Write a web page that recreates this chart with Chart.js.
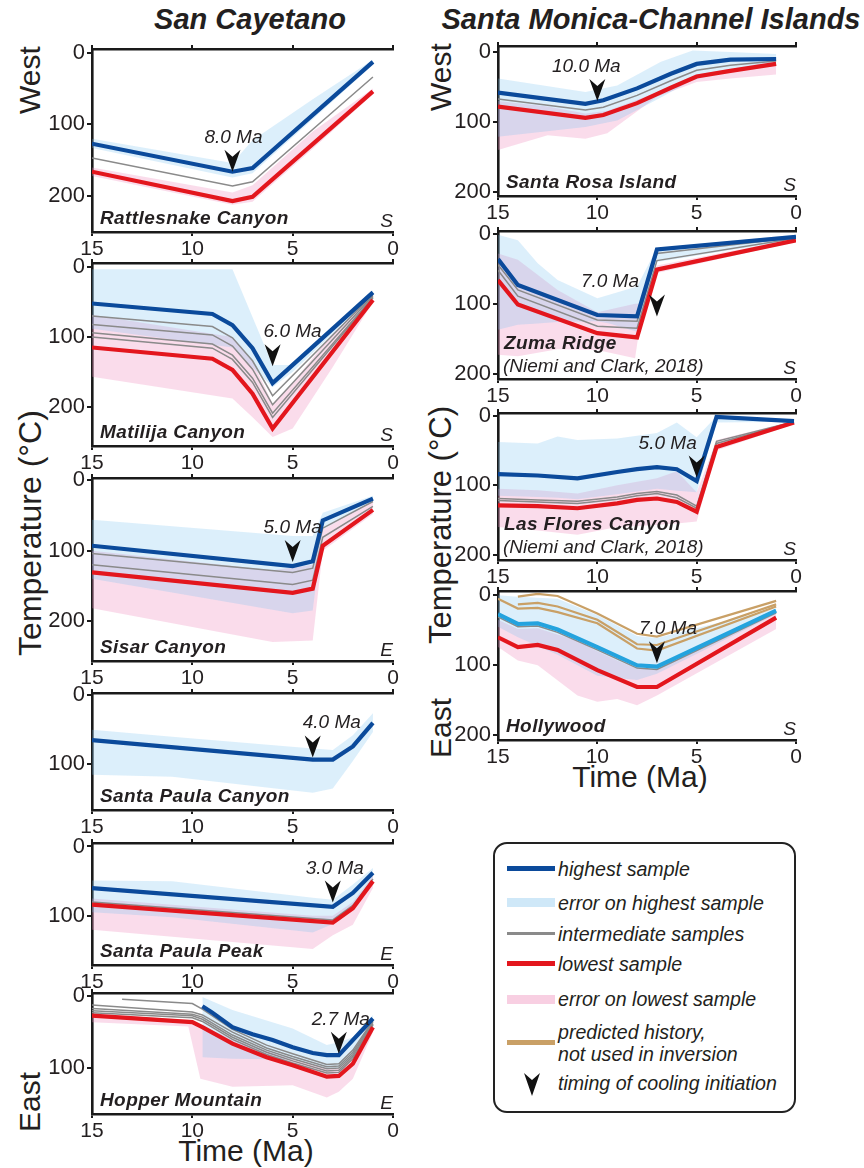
<!DOCTYPE html>
<html>
<head>
<meta charset="utf-8">
<script src="https://cdn.jsdelivr.net/npm/chart.js@4.4.1/dist/chart.umd.min.js"></script>
<style>
  html, body { margin: 0; padding: 0; background: #fff; }
  body { position: relative; width: 864px; height: 1168px; overflow: hidden;
         font-family: "Liberation Sans", Arial, sans-serif; color: #231f20; }
  canvas { position: absolute; }
  .title { position: absolute; font-weight: bold; font-style: italic; font-size: 29px;
           white-space: nowrap; transform: translateX(-50%); }
  .vlab { position: absolute; font-size: 30px; white-space: nowrap;
          transform: translate(-50%, -50%) rotate(-90deg); }
  .hlab { position: absolute; font-size: 30px; white-space: nowrap; transform: translateX(-50%); }
  #legend { position: absolute; left: 493px; top: 842px; width: 299px; height: 267px;
            border: 2.2px solid #222; border-radius: 14px; }
  .sw { position: absolute; left: 507px; width: 48px; }
  .lt { position: absolute; left: 558px; font-style: italic; font-size: 19.6px; line-height: 22px;
        white-space: nowrap; }
</style>
</head>
<body>

<div class="title" style="left:250px; top:3px;">San Cayetano</div>
<div class="title" style="left:651px; top:3px;">Santa Monica-Channel Islands</div>

<div class="vlab" style="left:30px; top:80px;">West</div>
<div class="vlab" style="left:30px; top:533px; font-size:32px;">Temperature (°C)</div>
<div class="vlab" style="left:30px; top:1102px;">East</div>
<div class="vlab" style="left:441px; top:77px;">West</div>
<div class="vlab" style="left:441px; top:525px; font-size:31px;">Temperature (°C)</div>
<div class="vlab" style="left:441px; top:728px;">East</div>
<div class="hlab" style="left:246px; top:1134px;">Time (Ma)</div>
<div class="hlab" style="left:640px; top:760px;">Time (Ma)</div>

<div id="legend"></div>
<div class="sw" style="top:866px; height:5px; background:#0b4a9b;"></div>
<div class="lt" style="top:858px;">highest sample</div>
<div class="sw" style="top:898px; height:9px; background:#cfe8f8;"></div>
<div class="lt" style="top:892px;">error on highest sample</div>
<div class="sw" style="top:932px; height:3px; background:#8a8a8a;"></div>
<div class="lt" style="top:923px;">intermediate samples</div>
<div class="sw" style="top:961px; height:5px; background:#e3161d;"></div>
<div class="lt" style="top:953px;">lowest sample</div>
<div class="sw" style="top:995px; height:9px; background:#f8cfe2;"></div>
<div class="lt" style="top:988px;">error on lowest sample</div>
<div class="sw" style="top:1040px; height:5px; background:#c9a066;"></div>
<div class="lt" style="top:1021px;">predicted history,<br>not used in inversion</div>
<svg style="position:absolute; left:523px; top:1072px;" width="18" height="24">
  <polygon points="9,24 1,1 9,8 17,1" fill="#111"/>
</svg>
<div class="lt" style="top:1072px;">timing of cooling initiation</div>

<script>
// ---------- axis ticks ----------
const timeTicks = [15, 10, 5, 0];
const tempTicksFull = [0, 100, 200];
const tempTicksShort = [0, 100];

// ---------- San Cayetano: Rattlesnake Canyon ----------
const rcTime = [15, 8, 7, 1];
const rcHighest = [127, 166, 161, 13];
const rcMid1 = [147, 186, 180, 34];
const rcLowest = [166, 207, 201, 54];
const rcHighErrTime = [15, 8, 7, 4, 1];
const rcHighErrTop = [120, 154, 122, 65, 10];
const rcHighErrBottom = [133, 174, 168, 93, 17];
const rcLowErrTime = [15, 8, 7, 4, 1];
const rcLowErrTop = [160, 195, 185, 110, 50];
const rcLowErrBottom = [172, 212, 208, 134, 58];

// ---------- Matilija Canyon ----------
const mcTime = [15, 9, 8, 7, 6, 1];
const mcHighest = [52, 67, 83, 116, 166, 36];
const mcMid1 = [70, 85, 101, 134, 184, 39];
const mcMid2 = [82, 97, 113, 146, 197, 41];
const mcMid3 = [94, 110, 126, 159, 209, 43];
const mcMid4 = [100, 116, 132, 165, 215, 44];
const mcLowest = [115, 131, 147, 181, 231, 47];
const mcHighErrTime = [15, 8, 6, 5, 1];
const mcHighErrTop = [3, 3, 140, 140, 33];
const mcHighErrBottom = [88, 115, 172, 150, 40];
const mcLowErrTime = [15, 8, 7, 6, 5, 3, 1];
const mcLowErrTop = [68, 100, 135, 195, 165, 95, 42];
const mcLowErrBottom = [157, 188, 215, 243, 231, 143, 50];

// ---------- Sisar Canyon ----------
const scTime = [15, 5, 4, 3.5, 1];
const scHighest = [93, 122, 115, 57, 26];
const scMid1 = [104, 131, 125, 68, 30];
const scMid2 = [120, 148, 142, 81, 37];
const scLowest = [131, 160, 154, 93, 42];
const scHighErrTime = [15, 5, 4, 3.5, 1];
const scHighErrTop = [56, 79, 79, 46, 22];
const scHighErrBottom = [140, 189, 185, 70, 30];
const scLowErrTime = [15, 6, 4, 3.5, 1];
const scLowErrTop = [100, 128, 120, 70, 30];
const scLowErrBottom = [182, 230, 228, 100, 48];

// ---------- Santa Paula Canyon ----------
const spcTime = [15, 4, 3, 2, 1];
const spcHighest = [65, 93, 93, 74, 40];
const spcHighErrTime = [15, 11, 4, 3, 2, 1];
const spcHighErrTop = [50, 60, 77, 79, 58, 26];
const spcHighErrBottom = [115, 118, 141, 135, 95, 53];

// ---------- Santa Paula Peak ----------
const sppTime = [15, 3, 2, 1];
const sppHighest = [60, 87, 67, 38];
const sppMid1 = [80, 106, 85, 47];
const sppLowest = [84, 110, 89, 50];
const sppHighErrTime = [15, 11, 4, 3, 2, 1];
const sppHighErrTop = [49, 50, 74, 77, 55, 31];
const sppHighErrBottom = [95, 102, 124, 112, 85, 45];
const sppLowErrTime = [15, 4, 3, 2, 1];
const sppLowErrTop = [75, 100, 100, 80, 42];
const sppLowErrBottom = [120, 148, 128, 113, 60];

// ---------- Hopper Mountain ----------
const hmHighTime = [9.5, 9, 8, 7, 6, 5, 4, 3.3, 2.7, 1];
const hmHighest = [14, 23, 43, 53, 61, 71, 79, 82, 82, 31];
const hmTime = [15, 10, 9.5, 8, 6.3, 5, 3.3, 2.7, 2, 1];
const hmMid0Time = [13.5, 10, 9.5, 8, 6.3, 5, 3.3, 2.7, 2, 1];
const hmMid0 = [4, 10, 18, 46, 68, 80, 95, 94, 75, 34];
const hmMid1 = [12, 22, 26, 50, 72, 84, 98, 97, 78, 36];
const hmMid2 = [17, 25, 29, 54, 75, 87, 101, 100, 81, 38];
const hmMid3 = [20, 27, 32, 57, 78, 90, 104, 103, 84, 39];
const hmMid4 = [23, 30, 35, 60, 81, 93, 107, 106, 87, 40];
const hmLowest = [27, 36, 43, 66, 85, 96, 112, 111, 94, 43];
const hmHighErrTime = [9.5, 8, 5, 3.3, 2.7, 2, 1];
const hmHighErrTop = [1, 19, 45, 68, 64, 57, 26];
const hmHighErrBottom = [85, 87, 88, 100, 100, 85, 38];
const hmLowErrTime = [15, 10.2, 9.6, 8, 5, 3.3, 2.7, 2, 1];
const hmLowErrTop = [24, 33, 40, 60, 88, 100, 100, 85, 40];
const hmLowErrBottom = [36, 42, 115, 126, 124, 141, 133, 115, 50];

// ---------- Santa Monica-Channel Islands: Santa Rosa Island ----------
const srTime = [15, 10.6, 9.7, 8, 6.3, 5, 3.3, 1];
const srHighest = [58, 74, 69, 52, 31, 17, 11, 10];
const srMid1 = [67, 83, 79, 62, 41, 26, 19, 13];
const srLowest = [78, 94, 90, 73, 51, 35, 27, 17];
const srHighErrTime = [15, 10.6, 9, 6.8, 5.2, 3.3, 1];
const srHighErrTop = [38, 57, 48, 14, -2, 0, 3];
const srHighErrBottom = [121, 107, 98, 65, 40, 28, 17];
const srLowErrTime = [15, 12.5, 10.6, 9.5, 7, 5, 3.3, 1];
const srLowErrTop = [70, 78, 88, 84, 58, 32, 24, 13];
const srLowErrBottom = [140, 119, 124, 116, 64, 43, 38, 32];

// ---------- Zuma Ridge ----------
const zrTime = [15, 14, 10, 8, 7, 0];
const zrHighest = [36, 73, 116, 118, 22, 4];
const zrMid1 = [44, 80, 123, 125, 28, 5];
const zrMid2 = [52, 89, 132, 135, 38, 6];
const zrLowest = [66, 101, 142, 148, 51, 9];
const zrHighErrTime = [15, 14, 13, 12, 10, 9.4, 8, 7, 0];
const zrHighErrTop = [1, 9, 42, 66, 92, 87, 75, 20, 1];
const zrHighErrBottom = [137, 130, 128, 126, 125, 128, 140, 40, 8];
const zrLowErrTime = [15, 14, 12, 10, 8.1, 7.8, 7, 0];
const zrLowErrTop = [28, 37, 80, 112, 100, 100, 45, 6];
const zrLowErrBottom = [173, 175, 165, 166, 178, 120, 56, 11];

// ---------- Las Flores Canyon ----------
const lfTime = [15, 13, 11, 9, 8, 7, 6, 5, 4, 0.1];
const lfHighest = [84, 86, 90, 81, 77, 74, 77, 94, 2, 8];
const lfMid1 = [119, 121, 123, 117, 112, 109, 114, 130, 37, 9];
const lfMid2 = [122, 124, 126, 120, 115, 112, 118, 133, 40, 9];
const lfLowest = [129, 130, 133, 126, 121, 119, 124, 138, 45, 10];
const lfHighErrTime = [15, 13, 12, 11, 9, 7, 6, 5, 4, 0.1];
const lfHighErrTop = [38, 40, 30, 35, 33, 25, 10, 31, 1, 7];
const lfHighErrBottom = [115, 117, 118, 120, 113, 105, 108, 110, 10, 9];
const lfLowErrTime = [15, 13, 11, 9, 7, 6, 5, 4, 0.1];
const lfLowErrTop = [105, 107, 112, 100, 90, 80, 110, 35, 8];
const lfLowErrBottom = [160, 165, 171, 160, 157, 155, 152, 50, 12];

// ---------- Hollywood ----------
const hwTime = [15, 14, 13, 12, 10, 8, 7, 1];
const hwHighest = [27, 41, 40, 49, 74, 100, 102, 22];
const hwMid1 = [31, 45, 44, 53, 78, 104, 106, 25];
const hwLowest = [60, 74, 71, 78, 107, 131, 131, 32];
const hwPredTime = [14, 13, 12, 10, 8, 7, 1];
const hwPred1 = [2, -2, 1, 26, 55, 59, 8];
const hwPred2 = [13, 11, 16, 35, 70, 71, 13];
const hwPred3 = [5, 19, 18, 24, 40, 76, 79, 16];
const hwHighErrTime = [15, 14, 12, 10, 8, 7, 1];
const hwHighErrTop = [0, 2, 5, 28, 58, 61, 19];
const hwHighErrBottom = [45, 60, 85, 115, 121, 112, 27];
const hwLowErrTime = [15, 14, 13, 11, 10, 9, 8, 7, 1];
const hwLowErrTop = [35, 48, 47, 65, 80, 93, 105, 106, 25];
const hwLowErrBottom = [74, 93, 100, 143, 152, 148, 157, 143, 48];

// ---------- timing of cooling initiation (Ma) and arrow tip temperature (°C) ----------
const onsetMaWest = [8.0, 6.0, 5.0, 4.0, 3.0, 2.7];
const onsetTipWest = [166, 142, 116, 90, 81, 80];
const onsetMaChannel = [10.0, 7.0, 5.0, 7.0];
const onsetTipChannel = [70, 118, 89, 97];

// ---------- drawing ----------
const FONT = '"Liberation Sans", Arial, sans-serif';
Chart.defaults.font.family = FONT;
Chart.defaults.color = '#231f20';

const STYLE = {
  high:      { color: '#0b4a9b', width: 4.2 },
  highLight: { color: '#24a3de', width: 4.2 },
  low:       { color: '#e3161d', width: 4.2 },
  mid:       { color: '#8a8a8a', width: 1.5 },
  pred:      { color: '#c9a066', width: 2.2 }
};
const HIGH_BAND = 'rgba(120, 192, 240, 0.26)';
const LOW_BAND = 'rgba(238, 140, 188, 0.30)';

const pts = (ts, vs) => ts.map((t, i) => ({ x: t, y: vs[i] }));

const COLS = {
  L: { left: 0, width: 420, areaLeft: 92, areaRight: 393 },
  R: { left: 430, width: 434, areaLeft: 498, areaRight: 796 }
};

const panels = [
  { col: 'L', top: 49, bottom: 232, yMin: -5, yMax: 250, yTicks: tempTicksFull,
    name: ['Rattlesnake Canyon'], dir: 'S', onset: onsetMaWest[0], tip: onsetTipWest[0], labelDx: 1,
    lines: [['high', rcTime, rcHighest], ['low', rcTime, rcLowest], ['mid', rcTime, rcMid1]],
    highBand: [rcHighErrTime, rcHighErrTop, rcHighErrBottom],
    lowBand: [rcLowErrTime, rcLowErrTop, rcLowErrBottom] },
  { col: 'L', top: 263.3, bottom: 445.7, yMin: -6, yMax: 256, yTicks: tempTicksFull,
    name: ['Matilija Canyon'], dir: 'S', onset: onsetMaWest[1], tip: onsetTipWest[1], labelDx: 20,
    lines: [['high', mcTime, mcHighest], ['low', mcTime, mcLowest], ['mid', mcTime, mcMid1],
            ['mid', mcTime, mcMid2], ['mid', mcTime, mcMid3], ['mid', mcTime, mcMid4]],
    highBand: [mcHighErrTime, mcHighErrTop, mcHighErrBottom],
    lowBand: [mcLowErrTime, mcLowErrTop, mcLowErrBottom] },
  { col: 'L', top: 478.3, bottom: 660.7, yMin: -3.4, yMax: 257, yTicks: tempTicksFull,
    name: ['Sisar Canyon'], dir: 'E', onset: onsetMaWest[2], tip: onsetTipWest[2], labelDx: 0,
    lines: [['high', scTime, scHighest], ['low', scTime, scLowest], ['mid', scTime, scMid1], ['mid', scTime, scMid2]],
    highBand: [scHighErrTime, scHighErrTop, scHighErrBottom],
    lowBand: [scLowErrTime, scLowErrTop, scLowErrBottom] },
  { col: 'L', top: 692.7, bottom: 810, yMin: -3.3, yMax: 166, yTicks: tempTicksShort,
    name: ['Santa Paula Canyon'], dir: '', onset: onsetMaWest[3], tip: onsetTipWest[3], labelDx: 19,
    lines: [['high', spcTime, spcHighest]],
    highBand: [spcHighErrTime, spcHighErrTop, spcHighErrBottom],
    lowBand: null },
  { col: 'L', top: 843.3, bottom: 965, yMin: -5, yMax: 171, yTicks: tempTicksShort,
    name: ['Santa Paula Peak'], dir: 'E', onset: onsetMaWest[4], tip: onsetTipWest[4], labelDx: 2,
    lines: [['high', sppTime, sppHighest], ['low', sppTime, sppLowest], ['mid', sppTime, sppMid1]],
    highBand: [sppHighErrTime, sppHighErrTop, sppHighErrBottom],
    lowBand: [sppLowErrTime, sppLowErrTop, sppLowErrBottom] },
  { col: 'L', top: 992.7, bottom: 1114, yMin: -4.6, yMax: 164, yTicks: tempTicksShort,
    name: ['Hopper Mountain'], dir: 'E', onset: onsetMaWest[5], tip: onsetTipWest[5], labelDx: 2,
    lines: [['high', hmHighTime, hmHighest], ['low', hmTime, hmLowest], ['mid', hmMid0Time, hmMid0],
            ['mid', hmTime, hmMid1], ['mid', hmTime, hmMid2], ['mid', hmTime, hmMid3], ['mid', hmTime, hmMid4]],
    highBand: [hmHighErrTime, hmHighErrTop, hmHighErrBottom],
    lowBand: [hmLowErrTime, hmLowErrTop, hmLowErrBottom] },

  { col: 'R', top: 45.7, bottom: 195.7, yMin: -8.6, yMax: 205.7, yTicks: tempTicksFull,
    name: ['Santa Rosa Island'], dir: 'S', onset: onsetMaChannel[0], tip: onsetTipChannel[0], labelDx: -11,
    lines: [['high', srTime, srHighest], ['low', srTime, srLowest], ['mid', srTime, srMid1]],
    highBand: [srHighErrTime, srHighErrTop, srHighErrBottom],
    lowBand: [srLowErrTime, srLowErrTop, srLowErrBottom] },
  { col: 'R', top: 231, bottom: 379.3, yMin: -4.3, yMax: 207.6, yTicks: tempTicksFull,
    name: ['Zuma Ridge', '(Niemi and Clark, 2018)'], dir: 'S', onset: onsetMaChannel[1], tip: onsetTipChannel[1], labelDx: -47,
    lines: [['high', zrTime, zrHighest], ['low', zrTime, zrLowest], ['mid', zrTime, zrMid1], ['mid', zrTime, zrMid2]],
    highBand: [zrHighErrTime, zrHighErrTop, zrHighErrBottom],
    lowBand: [zrLowErrTime, zrLowErrTop, zrLowErrBottom] },
  { col: 'R', top: 413, bottom: 560, yMin: -3.6, yMax: 207.2, yTicks: tempTicksFull,
    name: ['Las Flores Canyon', '(Niemi and Clark, 2018)'], dir: 'S', onset: onsetMaChannel[2], tip: onsetTipChannel[2], labelDx: -29,
    lines: [['high', lfTime, lfHighest], ['low', lfTime, lfLowest], ['mid', lfTime, lfMid1], ['mid', lfTime, lfMid2]],
    highBand: [lfHighErrTime, lfHighErrTop, lfHighErrBottom],
    lowBand: [lfLowErrTime, lfLowErrTop, lfLowErrBottom] },
  { col: 'R', top: 590.7, bottom: 740, yMin: -6.1, yMax: 206.7, yTicks: tempTicksFull,
    name: ['Hollywood'], dir: 'S', onset: onsetMaChannel[3], tip: onsetTipChannel[3], labelDx: 11,
    lines: [['highLight', hwTime, hwHighest], ['low', hwTime, hwLowest], ['mid', hwTime, hwMid1],
            ['pred', hwPredTime, hwPred1], ['pred', hwPredTime, hwPred2], ['pred', hwTime, hwPred3]],
    highBand: [hwHighErrTime, hwHighErrTop, hwHighErrBottom],
    lowBand: [hwLowErrTime, hwLowErrTop, hwLowErrBottom] }
];

const CLEAR = 'rgba(0,0,0,0)';

function lineDataset(kind, ts, vs) {
  const s = STYLE[kind];
  return { data: pts(ts, vs), borderColor: s.color, borderWidth: s.width, pointRadius: 0,
           fill: false, tension: 0, borderJoinStyle: 'miter' };
}
function bandDatasets(band, color) {
  const [ts, top, bottom] = band;
  return [
    { data: pts(ts, top), borderColor: CLEAR, borderWidth: 1, pointRadius: 0, tension: 0,
      fill: '+1', backgroundColor: color },
    { data: pts(ts, bottom), borderColor: CLEAR, borderWidth: 1, pointRadius: 0, tension: 0, fill: false }
  ];
}

function arrowHead(ctx, x, y) {
  ctx.beginPath();
  ctx.moveTo(x, y);
  ctx.lineTo(x - 8, y - 22);
  ctx.lineTo(x, y - 15);
  ctx.lineTo(x + 8, y - 22);
  ctx.closePath();
  ctx.fillStyle = '#111';
  ctx.fill();
}

function panelTextPlugin(p) {
  return {
    id: 'panelText',
    afterDatasetsDraw(chart) {
      const { ctx, chartArea, scales } = chart;
      ctx.save();
      // cooling-initiation arrow and its label
      const ax = scales.x.getPixelForValue(p.onset);
      const ay = scales.y.getPixelForValue(p.tip);
      arrowHead(ctx, ax, ay);
      ctx.font = 'italic 19px ' + FONT;
      ctx.fillStyle = '#231f20';
      ctx.textAlign = 'center';
      ctx.textBaseline = 'alphabetic';
      ctx.fillText(p.onset.toFixed(1) + ' Ma', ax + p.labelDx, ay - 29);
      // locality name (and source)
      ctx.textAlign = 'left';
      ctx.letterSpacing = '0.4px';
      if (p.name.length === 1) {
        ctx.font = 'bold italic 19px ' + FONT;
        ctx.fillText(p.name[0], chartArea.left + 8, chartArea.bottom - 8);
      } else {
        ctx.font = 'bold italic 19px ' + FONT;
        ctx.fillText(p.name[0], chartArea.left + 6, chartArea.bottom - 30);
        ctx.letterSpacing = '0px';
        ctx.font = 'italic 19px ' + FONT;
        ctx.fillText(p.name[1], chartArea.left + 5, chartArea.bottom - 7);
      }
      ctx.letterSpacing = '0px';
      // strike orientation letter
      if (p.dir) {
        ctx.textAlign = 'right';
        ctx.font = 'italic 19px ' + FONT;
        ctx.fillText(p.dir, chartArea.right, chartArea.bottom - 5);
      }
      ctx.restore();
    }
  };
}

const noPad = s => { s.paddingLeft = 0; s.paddingRight = 0; s.paddingTop = 0; s.paddingBottom = 0; };

function buildPanel(p) {
  const col = COLS[p.col];
  const yAxisW = 50, x2H = 4, xH = 30, padT = 4, padB = 2;
  const cTop = Math.round(p.top) - x2H - padT;
  const areaTop = Math.round(p.top);
  const areaBottom = Math.round(p.bottom);
  const cHeight = (areaBottom - areaTop) + x2H + padT + xH + padB;

  const canvas = document.createElement('canvas');
  canvas.width = col.width;
  canvas.height = cHeight;
  canvas.style.left = col.left + 'px';
  canvas.style.top = cTop + 'px';
  canvas.style.width = col.width + 'px';
  canvas.style.height = cHeight + 'px';
  document.body.appendChild(canvas);

  const datasets = [];
  p.lines.forEach(([kind, ts, vs]) => datasets.push(lineDataset(kind, ts, vs)));
  if (p.highBand) datasets.push(...bandDatasets(p.highBand, HIGH_BAND));
  if (p.lowBand) datasets.push(...bandDatasets(p.lowBand, LOW_BAND));

  const axisColor = '#1a1a1a';
  new Chart(canvas, {
    type: 'line',
    data: { datasets },
    plugins: [panelTextPlugin(p)],
    options: {
      responsive: false,
      maintainAspectRatio: false,
      animation: false,
      devicePixelRatio: 1,
      events: [],
      layout: { padding: { left: col.areaLeft - col.left - yAxisW,
                           right: col.left + col.width - col.areaRight,
                           top: padT, bottom: padB } },
      plugins: { legend: { display: false }, tooltip: { enabled: false }, filler: { propagate: false } },
      scales: {
        x: {
          type: 'linear', position: 'bottom', reverse: true, min: 0, max: 15,
          afterBuildTicks: s => { s.ticks = timeTicks.map(v => ({ value: v })); },
          afterFit: s => { s.height = xH; noPad(s); },
          ticks: { font: { size: 21 }, color: '#231f20', padding: 1, maxRotation: 0, autoSkip: false },
          grid: { drawOnChartArea: false, tickLength: 4, color: axisColor, lineWidth: 2 },
          border: { color: axisColor, width: 2.6 }
        },
        x2: {
          type: 'linear', position: 'top', reverse: true, min: 0, max: 15,
          afterBuildTicks: s => { s.ticks = timeTicks.map(v => ({ value: v })); },
          afterFit: s => { s.height = x2H; noPad(s); },
          ticks: { display: false },
          grid: { drawOnChartArea: false, tickLength: 4, color: axisColor, lineWidth: 2 },
          border: { color: axisColor, width: 2.6 }
        },
        y: {
          type: 'linear', position: 'left', reverse: true, min: p.yMin, max: p.yMax,
          afterBuildTicks: s => { s.ticks = p.yTicks.map(v => ({ value: v })); },
          afterFit: s => { s.width = yAxisW; noPad(s); },
          ticks: { font: { size: 22 }, color: '#231f20', padding: 2, autoSkip: false },
          grid: { drawOnChartArea: false, tickLength: 5, color: axisColor, lineWidth: 2 },
          border: { color: axisColor, width: 2.6 }
        }
      }
    }
  });
}

panels.forEach(buildPanel);
</script>
</body>
</html>
